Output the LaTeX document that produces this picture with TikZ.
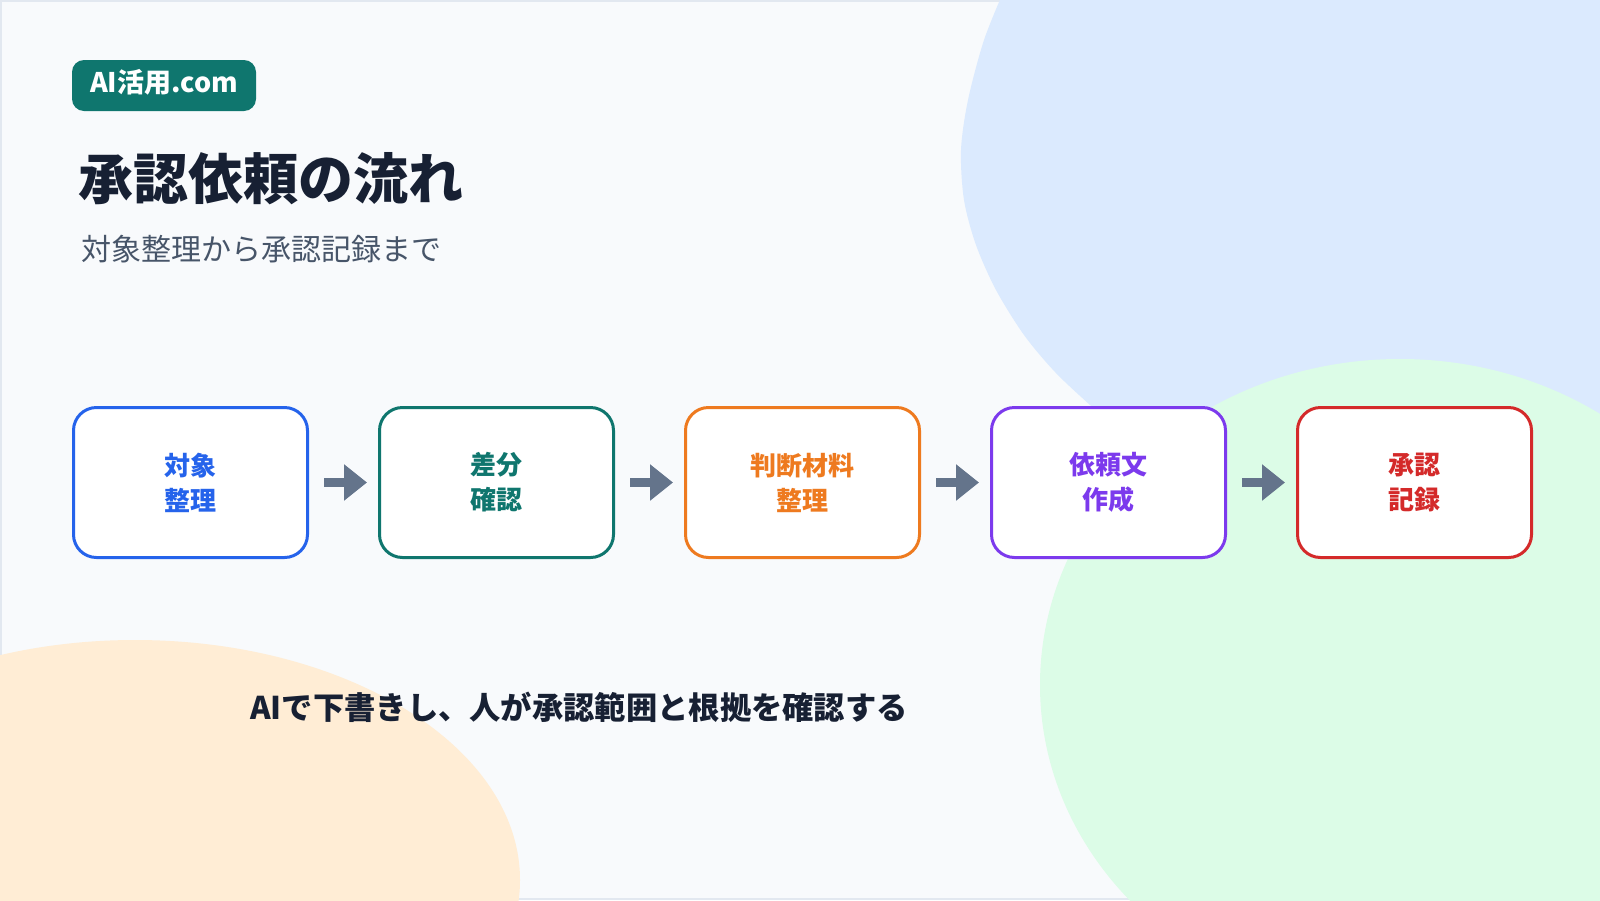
\documentclass[tikz,border=0pt]{standalone}
\usepackage{fontspec}
\setmainfont{Noto Sans CJK JP}
\usetikzlibrary{arrows.meta}
\definecolor{bgc}{HTML}{F8FAFC}
\definecolor{borderc}{HTML}{E2E8F0}
\definecolor{bluebg}{HTML}{DBEAFE}
\definecolor{greenbg}{HTML}{DCFCE7}
\definecolor{orangebg}{HTML}{FFEDD5}
\definecolor{badgec}{HTML}{0F766E}
\definecolor{titlec}{HTML}{172033}
\definecolor{subc}{HTML}{475569}
\definecolor{arrowc}{HTML}{64748B}
\definecolor{cA}{HTML}{2563EB}
\definecolor{cB}{HTML}{0F766E}
\definecolor{cC}{HTML}{EE7A1F}
\definecolor{cD}{HTML}{7C3AED}
\definecolor{cE}{HTML}{D42A2A}
\begin{document}
\begin{tikzpicture}[x=1pt,y=-1pt,
  stepbox/.style={draw=#1, line width=3pt, fill=white, rounded corners=23pt,
    minimum width=234pt, minimum height=150pt, text=#1, align=center,
    font=\fontsize{26}{35}\selectfont\bfseries, inner sep=0pt},
  flow/.style={draw=arrowc, line width=9pt, -{Triangle[length=23pt,width=35pt]}}
]
\useasboundingbox (0,0) rectangle (1600,900);
\fill[bgc] (0,0) rectangle (1600,900);
\draw[borderc, line width=2pt] (1,1) rectangle (1599,899);
\begin{scope}
\clip (0,0) rectangle (1600,900);
\fill[orangebg] (135,880) ellipse [x radius=385pt, y radius=240pt];
\fill[bluebg] plot[smooth, tension=0.5] coordinates {(1005,-12) (984,40) (968,100) (961,150) (964,200) (976,245) (996,290) (1024,335) (1055,372) (1090,405) (1130,440) (1170,470)} -- (1620,480) -- (1620,-12) -- cycle;
\fill[greenbg] (1400,685) ellipse [x radius=360pt, y radius=326pt];
\end{scope}

\node[fill=badgec, rounded corners=12pt, minimum width=184pt, minimum height=51pt,
  text=white, font=\fontsize{27}{27}\selectfont\bfseries, inner sep=0pt] (badge) at (164,85.5) {\raisebox{3pt}[\height][\depth]{AI活用.com}};
\node[anchor=west, inner sep=0pt, text=titlec, font=\fontsize{55}{55}\selectfont\bfseries] (title) at (78,179) {承認依頼の流れ};
\node[anchor=west, inner sep=0pt, text=subc, font=\fontsize{30}{30}\selectfont] (sub) at (81,249) {対象整理から承認記録まで};

\node[stepbox=cA] (b1) at (190.5,482.5) {対象\\整理};
\node[stepbox=cB] (b2) at (496.5,482.5) {差分\\確認};
\node[stepbox=cC] (b3) at (802.5,482.5) {判断材料\\整理};
\node[stepbox=cD] (b4) at (1108.5,482.5) {依頼文\\作成};
\node[stepbox=cE] (b5) at (1414.5,482.5) {承認\\記録};

\draw[flow] ([xshift=15pt]b1.east) -- ([xshift=-11pt]b2.west);
\draw[flow] ([xshift=15pt]b2.east) -- ([xshift=-11pt]b3.west);
\draw[flow] ([xshift=15pt]b3.east) -- ([xshift=-11pt]b4.west);
\draw[flow] ([xshift=15pt]b4.east) -- ([xshift=-11pt]b5.west);

\node[anchor=west, inner sep=0pt, text=titlec, font=\fontsize{31.3}{31.3}\selectfont\bfseries] (note) at (250,707) {AIで下書きし、人が承認範囲と根拠を確認する};
\end{tikzpicture}
\end{document}
